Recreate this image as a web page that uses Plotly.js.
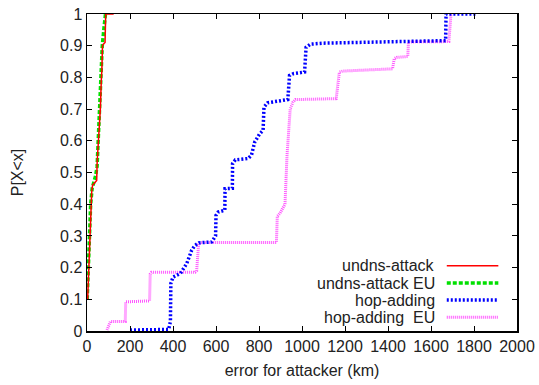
<!DOCTYPE html>
<html>
<head>
<meta charset="utf-8">
<script src="https://cdn.plot.ly/plotly-3.0.1.min.js"></script>
<style>html,body{margin:0;padding:0;background:#fff;}#chart{width:539px;height:385px;}</style>
</head>
<body>
<div id="chart"></div>
<script>
// undns-attack
var undnsX = [3, 8, 15, 22, 26, 38, 45, 47, 54, 62, 67, 69, 72, 76, 84, 87, 124];
var undnsY = [0.1, 0.2, 0.3, 0.44, 0.46, 0.47, 0.475, 0.53, 0.6, 0.7, 0.8, 0.82, 0.9, 0.905, 0.91, 1.0, 1.0];
// undns-attack EU
var undnsEuX = [1, 5, 11, 17, 24, 32, 40, 47, 52, 57, 62, 67, 71, 78, 86];
var undnsEuY = [0.1, 0.2, 0.3, 0.4, 0.45, 0.47, 0.49, 0.52, 0.6, 0.7, 0.8, 0.85, 0.9, 0.95, 1.0];
// hop-adding
var hopX = [200, 380, 388, 390, 400, 435, 464, 487, 502, 520, 580, 598, 600, 610, 641, 642, 676, 677, 690, 749, 765, 780, 803, 819, 823, 840, 934, 942, 960, 1012, 1019, 1040, 1100, 1300, 1500, 1668, 1670, 1807];
var hopY = [0.003, 0.005, 0.03, 0.15, 0.17, 0.182, 0.213, 0.255, 0.27, 0.278, 0.281, 0.3, 0.365, 0.375, 0.381, 0.449, 0.45, 0.528, 0.54, 0.544, 0.555, 0.596, 0.622, 0.633, 0.706, 0.72, 0.73, 0.806, 0.812, 0.817, 0.895, 0.905, 0.908, 0.91, 0.912, 0.916, 1.0, 1.0];
// hop-adding EU
var hopEuX = [93, 109, 178, 180, 291, 294, 300, 502, 510, 519, 530, 881, 885, 898, 921, 930, 945, 958, 970, 1159, 1174, 1190, 1421, 1429, 1440, 1492, 1495, 1510, 1683, 1691, 1693];
var hopEuY = [0.003, 0.03, 0.03, 0.092, 0.095, 0.18, 0.185, 0.185, 0.19, 0.273, 0.279, 0.279, 0.362, 0.372, 0.4, 0.55, 0.7, 0.722, 0.73, 0.733, 0.817, 0.82, 0.827, 0.859, 0.863, 0.866, 0.911, 0.912, 0.913, 0.995, 1.0];

var seriesNames = ["undns-attack", "undns-attack EU", "hop-adding", "hop-adding\u00a0 EU"];
var xTickVals = [0, 200, 400, 600, 800, 1000, 1200, 1400, 1600, 1800, 2000];
var yTickVals = [0, 0.1, 0.2, 0.3, 0.4, 0.5, 0.6, 0.7, 0.8, 0.9, 1];

var styles = [
  {color: '#ff0000', width: 1.5, dash: 'solid'},
  {color: '#00e000', width: 3.5, dash: '4px,2px'},
  {color: '#0000ff', width: 3.5, dash: '2px,2px'},
  {color: '#ff55ff', width: 3, dash: '1px,1px'}
];

var xs = [undnsX, undnsEuX, hopX, hopEuX];
var ys = [undnsY, undnsEuY, hopY, hopEuY];
var order = [3, 2, 1, 0];
var traces = order.map(function (i) {
  return {x: xs[i], y: ys[i], type: 'scatter', mode: 'lines', name: seriesNames[i],
    line: styles[i], showlegend: false, hoverinfo: 'skip'};
});

var font = {family: 'Liberation Sans, Arial, sans-serif', size: 16, color: '#222'};
var legendRows = [0.2057, 0.1512, 0.0976, 0.0431];
var annotations = [], shapes = [];
for (var i = 0; i < 4; i++) {
  annotations.push({xref: 'paper', yref: 'paper', x: 0.8135, y: legendRows[i], xanchor: 'right', yanchor: 'middle',
    text: seriesNames[i], showarrow: false, font: font});
  shapes.push({type: 'line', xref: 'paper', yref: 'paper', x0: 0.8367, x1: 0.9566, y0: legendRows[i], y1: legendRows[i],
    line: {color: styles[i].color, width: styles[i].width, dash: styles[i].dash}});
}

var axisCommon = {showline: true, linecolor: '#000', linewidth: 1.5, mirror: 'allticks', ticks: 'inside',
  ticklen: 5, tickwidth: 1, tickcolor: '#000', showgrid: false, zeroline: false, tickfont: font};

var layout = {
  width: 539, height: 385,
  margin: {l: 86.5, r: 22, t: 13.5, b: 54},
  paper_bgcolor: '#fff', plot_bgcolor: '#fff',
  font: font,
  xaxis: Object.assign({}, axisCommon, {range: [0, 2000], tickmode: 'array', tickvals: xTickVals,
    title: {text: 'error for attacker (km)', font: font, standoff: 11}}),
  yaxis: Object.assign({}, axisCommon, {range: [0, 1], tickmode: 'array', tickvals: yTickVals,
    ticktext: yTickVals.map(function (v) { return String(v); }),
    title: {text: 'P[X<x]', font: font, standoff: 32}}),
  annotations: annotations,
  shapes: shapes,
  showlegend: false
};

Plotly.newPlot('chart', traces, layout, {displayModeBar: false, staticPlot: true});
</script>
</body>
</html>
